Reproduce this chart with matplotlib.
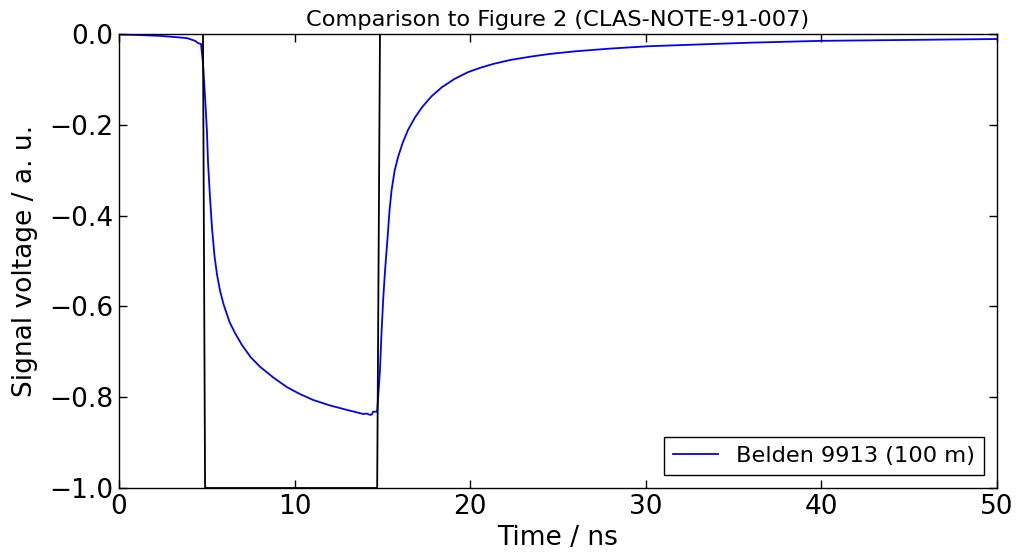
import matplotlib
matplotlib.use("Agg")
import matplotlib.pyplot as plt

# input pulse (black)
pulse_t = [0.0, 4.78, 4.9, 14.7, 14.86, 50.0]
pulse_v = [0.0, 0.0, -1.0, -1.0, 0.0, 0.0]

# Belden 9913 (100 m) response (blue)
cable_t = [0.0, 1.0, 2.3, 3.3, 3.87, 4.33, 4.5, 4.67, 4.78, 4.9, 5.0, 5.07,
           5.18, 5.3, 5.44, 5.58, 5.75, 5.95, 6.3, 6.61, 7.0, 7.5, 8.03, 8.8,
           9.57, 10.3, 11.05, 12.0, 12.98, 13.5, 13.9, 14.1, 14.3, 14.4, 14.46,
           14.64, 14.7, 14.86, 14.95, 15.05, 15.15, 15.3, 15.4, 15.52, 15.7,
           15.89, 16.15, 16.46, 16.85, 17.26, 17.8, 18.39, 19.1, 19.87, 20.6,
           21.3, 22.3, 23.4, 24.5, 26.0, 28.0, 30.1, 33.0, 36.0, 40.0, 45.0,
           50.0]
cable_v = [-0.001, -0.002, -0.004, -0.007, -0.009, -0.015, -0.02, -0.022,
           -0.064, -0.14, -0.21, -0.284, -0.36, -0.43, -0.49, -0.53, -0.565,
           -0.595, -0.635, -0.659, -0.685, -0.712, -0.733, -0.757, -0.778,
           -0.793, -0.806, -0.818, -0.828, -0.833, -0.837, -0.836, -0.839,
           -0.838, -0.832, -0.832, -0.832, -0.74, -0.655, -0.58, -0.52, -0.445,
           -0.39, -0.344, -0.30, -0.271, -0.24, -0.211, -0.184, -0.161,
           -0.137, -0.117, -0.099, -0.084, -0.074, -0.066, -0.057, -0.050,
           -0.044, -0.038, -0.032, -0.027, -0.023, -0.019, -0.015, -0.013,
           -0.011]

fig = plt.figure(figsize=(10.2, 5.56), dpi=100)
ax = fig.add_axes([0.1167, 0.1223, 0.8608, 0.8165])

ax.plot(cable_t, cable_v, color="#0000ff", lw=1.3, label="Belden 9913 (100 m)")
ax.plot(pulse_t, pulse_v, color="black", lw=1.3)

ax.set_xlim(0, 50)
ax.set_ylim(-1.0, 0.0)
ax.set_xticks([0, 10, 20, 30, 40, 50])
ax.set_yticks([-1.0, -0.8, -0.6, -0.4, -0.2, 0.0])
ax.set_yticklabels(["\u22121.0", "\u22120.8", "\u22120.6", "\u22120.4", "\u22120.2", "0.0"])
ax.tick_params(direction="in", length=6, width=1, top=True, right=True,
               labelsize=19, pad=4)
for s in ax.spines.values():
    s.set_linewidth(1.0)

ax.set_xlabel("Time / ns", fontsize=19, labelpad=4)
ax.set_ylabel("Signal voltage / a. u.", fontsize=19, labelpad=8)
ax.set_title("Comparison to Figure 2 (CLAS-NOTE-91-007)", fontsize=16.2, pad=6)

leg = ax.legend(loc="lower right", fontsize=16.2, fancybox=False, framealpha=1,
                edgecolor="black", handlelength=2.0, borderaxespad=0.6)
leg.get_frame().set_linewidth(1.0)

fig.savefig("out.png", dpi=100, facecolor="white")
